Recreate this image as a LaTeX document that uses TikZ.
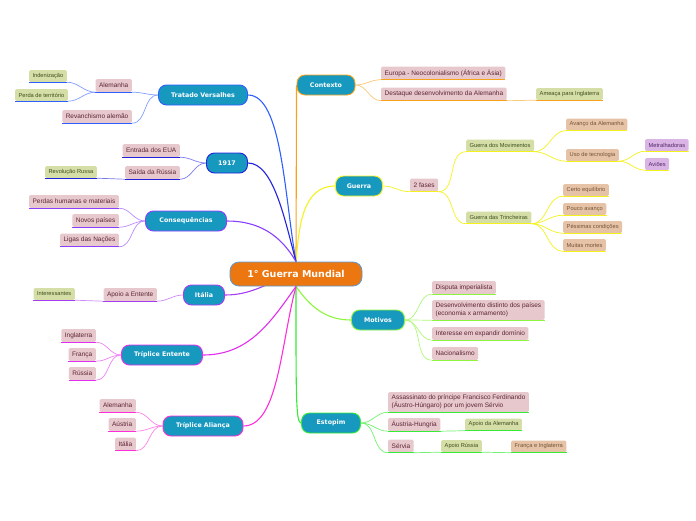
\documentclass[tikz,border=0pt]{standalone}
\usepackage{fontspec}
\setmainfont{Liberation Sans}
\newfontfamily\topicfont{DejaVu Sans}
\usetikzlibrary{backgrounds}
\definecolor{cRoot}{HTML}{EC7610}
\definecolor{cRootLine}{HTML}{5B9BD5}
\definecolor{cTopic}{HTML}{1798BF}
\definecolor{cPink}{HTML}{E6C8CD}
\definecolor{cPinkTxt}{HTML}{5E2634}
\definecolor{cSage}{HTML}{D5DEA7}
\definecolor{cSageTxt}{HTML}{3F5020}
\definecolor{cTan}{HTML}{E6C3A6}
\definecolor{cTanTxt}{HTML}{74543A}
\definecolor{cLilac}{HTML}{D9B4E4}
\definecolor{cLilacTxt}{HTML}{55286A}
% branch colours
\definecolor{bCtx}{HTML}{F7A21B}
\definecolor{bWar}{HTML}{F4F21C}
\definecolor{bMot}{HTML}{8CF53C}
\definecolor{bEst}{HTML}{36EB36}
\definecolor{bTrat}{HTML}{2F5EFF}
\definecolor{bYear}{HTML}{2222DD}
\definecolor{bCons}{HTML}{8A3EFF}
\definecolor{bIta}{HTML}{A63CF2}
\definecolor{bEnt}{HTML}{E22EF0}
\definecolor{bAli}{HTML}{FF2ED8}
\tikzset{
  root/.style={draw=cRootLine, line width=0.8pt, fill=cRoot, rounded corners=9pt,
     text=white, font=\topicfont\bfseries\fontsize{9.5}{11}\selectfont,
     minimum width=132pt, minimum height=24pt, inner sep=0pt},
  topic/.style={fill=cTopic, line width=0.9pt, rounded corners=8pt, text=white,
     font=\topicfont\bfseries\fontsize{6.3}{7.5}\selectfont, minimum height=20pt, inner sep=0pt},
  leaf/.style={fill=cPink, text=cPinkTxt, rounded corners=1.5pt, align=left,
     font=\fontsize{6.5}{7.6}\selectfont, minimum height=13pt, inner xsep=3.5pt, inner ysep=1.5pt},
  sage/.style={leaf, fill=cSage, text=cSageTxt, font=\fontsize{5.7}{6.5}\selectfont, minimum height=12pt},
  tan/.style={sage, fill=cTan, text=cTanTxt},
  lilac/.style={sage, fill=cLilac, text=cLilacTxt},
  trunk/.style={line width=1.1pt},
  twig/.style={line width=0.7pt},
  uline/.style={line width=1.4pt},
}

\begin{document}
\begin{tikzpicture}[x=1pt, y=-1pt]
  \useasboundingbox (0,0) rectangle (696,520);
  \node[root] (root) at (296,274) {1° Guerra Mundial};

  % main topics
  \node[topic, draw=bCtx, minimum width=58pt] (ctx) at (326,85) {Contexto};
  \node[topic, draw=bWar, minimum width=47pt] (war) at (359,186) {Guerra};
  \node[topic, draw=bMot, minimum width=53pt] (mot) at (378,320) {Motivos};
  \node[topic, draw=bEst, minimum width=59pt] (est) at (331,423) {Estopim};
  \node[topic, draw=bTrat, minimum width=89pt] (trat) at (203,95) {Tratado Versalhes};
  \node[topic, draw=bYear, minimum width=41pt] (year) at (227,163) {1917};
  \node[topic, draw=bCons, minimum width=81pt] (cons) at (186,221) {Consequências};
  \node[topic, draw=bIta, minimum width=41pt] (ita) at (204,295) {Itália};
  \node[topic, draw=bEnt, minimum width=81pt] (ent) at (162,355) {Tríplice Entente};
  \node[topic, draw=bAli, minimum width=80pt] (ali) at (203,426) {Tríplice Aliança};

  % right side leaves
  \node[leaf, anchor=west] (ctx1) at (381,73) {Europa - Neocolonialismo (África e Ásia)};
  \node[leaf, anchor=west] (ctx2) at (381,94) {Destaque desenvolvimento da Alemanha};
  \node[sage, anchor=west] (ctx3) at (536,94) {Ameaça para Inglaterra};

  \node[leaf, anchor=west] (fases) at (410,185) {2 fases};
  \node[sage, anchor=west] (movi) at (466,145.5) {Guerra dos Movimentos};
  \node[sage, anchor=west] (trin) at (466,217.5) {Guerra das Trincheiras};
  \node[tan, anchor=west] (avan) at (566,124.5) {Avanço da Alemanha};
  \node[tan, anchor=west] (tecn) at (566,155) {Uso de tecnologia};
  \node[lilac, anchor=west] (metr) at (645,145) {Metralhadoras};
  \node[lilac, anchor=west] (avio) at (645,164) {Aviões};
  \node[tan, anchor=west] (equi) at (563,190) {Certo equilíbrio};
  \node[tan, anchor=west] (pouco) at (563,209) {Pouco avanço};
  \node[tan, anchor=west] (pess) at (563,227) {Péssimas condições};
  \node[tan, anchor=west] (mort) at (563,245) {Muitas mortes};

  \node[leaf, anchor=west] (mot1) at (432,287.5) {Disputa imperialista};
  \node[leaf, anchor=west, minimum height=20pt] (mot2) at (432,310) {Desenvolvimento distinto dos países\\(economia x armamento)};
  \node[leaf, anchor=west] (mot3) at (432,333.5) {Interesse em expandir domínio};
  \node[leaf, anchor=west] (mot4) at (432,353.5) {Nacionalismo};

  \node[leaf, anchor=west, minimum height=20pt] (est1) at (388,402) {Assassinato do príncipe Francisco Ferdinando\\(Áustro-Húngaro) por um jovem Sérvio};
  \node[leaf, anchor=west] (est2) at (388,424.5) {Áustria-Hungria};
  \node[sage, anchor=west] (est3) at (465,424.5) {Apoio da Alemanha};
  \node[leaf, anchor=west] (est4) at (388,446) {Sérvia};
  \node[sage, anchor=west] (est5) at (441,446) {Apoio Rússia};
  \node[tan, anchor=west] (est6) at (511,446.5) {França e Inglaterra};

  % left side leaves
  \node[leaf, anchor=east] (trat1) at (132,85.5) {Alemanha};
  \node[sage, anchor=east] (trat2) at (67,76) {Indenização};
  \node[sage, anchor=east] (trat3) at (68,95) {Perda de território};
  \node[leaf, anchor=east] (trat4) at (132,116.5) {Revanchismo alemão};

  \node[leaf, anchor=east] (year1) at (180,150.5) {Entrada dos EUA};
  \node[leaf, anchor=east] (year2) at (180,172.5) {Saída da Rússia};
  \node[sage, anchor=east] (year3) at (97,172) {Revolução Russa};

  \node[leaf, anchor=east] (cons1) at (119,201.5) {Perdas humanas e materiais};
  \node[leaf, anchor=east] (cons2) at (119,220.5) {Novos países};
  \node[leaf, anchor=east] (cons3) at (119,240) {Ligas das Nações};

  \node[leaf, anchor=east] (ita1) at (157,294.5) {Apoio a Entente};
  \node[sage, anchor=east] (ita2) at (75,294) {Interessantes};

  \node[leaf, anchor=east] (ent1) at (96,335.5) {Inglaterra};
  \node[leaf, anchor=east] (ent2) at (96,354.5) {França};
  \node[leaf, anchor=east] (ent3) at (96,373.5) {Rússia};

  \node[leaf, anchor=east] (ali1) at (136,405.5) {Alemanha};
  \node[leaf, anchor=east] (ali2) at (136,424.5) {Aústria};
  \node[leaf, anchor=east] (ali3) at (136,444) {Itália};

  \begin{scope}[on background layer]
    % trunks from the root
    \draw[trunk, bCtx] (root.north) -- (ctx.west);
    \draw[trunk, bWar] (root.north) to[out=85, in=180] (war.west);
    \draw[trunk, bMot] (root.south) to[out=-55, in=180] (mot.west);
    \draw[trunk, bEst] (root.south) to[out=-90, in=180, out looseness=2, in looseness=0.1] (est.west);
    \draw[trunk, bTrat] (root.north) to[out=100, in=0, in looseness=0.5] (trat.east);
    \draw[trunk, bYear] (root.north) to[out=105, in=0, in looseness=0.6] (year.east);
    \draw[trunk, bCons] (root.north) to[out=120, in=0] (cons.east);
    \draw[trunk, bIta] (root.center) to[out=195, in=0] (ita.east);
    \draw[trunk, bEnt] (root.south) to[out=235, in=0] (ent.east);
    \draw[trunk, bAli] (root.south) to[out=255, in=0, in looseness=0.6] (ali.east);

    % right twigs
    \foreach \n in {ctx1,ctx2}
      \draw[twig, bCtx!60] (ctx.east) to[out=0, in=180] (\n.south west);
    \draw[twig, bCtx!60] (ctx2.south east) -- (ctx3.south west);

    \draw[twig, bWar] (war.east) to[out=0, in=180] (fases.south west);
    \foreach \n in {movi,trin}
      \draw[twig, bWar] (fases.south east) to[out=0, in=180] (\n.south west);
    \foreach \n in {avan,tecn}
      \draw[twig, bWar] (movi.south east) to[out=0, in=180] (\n.south west);
    \foreach \n in {metr,avio}
      \draw[twig, bWar] (tecn.south east) to[out=0, in=180] (\n.south west);
    \foreach \n in {equi,pouco,pess,mort}
      \draw[twig, bWar] (trin.south east) to[out=0, in=180] (\n.south west);

    \foreach \n in {mot1,mot2,mot3,mot4}
      \draw[twig, bMot!70] (mot.east) to[out=0, in=180] (\n.south west);

    \foreach \n in {est1,est2,est4}
      \draw[twig, bEst!70] (est.east) to[out=0, in=180] (\n.south west);
    \draw[twig, bEst!70] (est2.south east) -- (est3.south west);
    \draw[twig, bEst!70] (est4.south east) -- (est5.south west);
    \draw[twig, bEst!70] (est5.south east) -- (est6.south west);

    % left twigs
    \foreach \n in {trat1,trat4}
      \draw[twig, bTrat!60] (trat.west) to[out=180, in=0] (\n.south east);
    \foreach \n in {trat2,trat3}
      \draw[twig, bTrat!60] (trat1.south west) to[out=180, in=0] (\n.south east);
    \foreach \n in {year1,year2}
      \draw[twig, bYear!60] (year.west) to[out=180, in=0] (\n.south east);
    \draw[twig, bYear!60] (year2.south west) -- (year3.south east);
    \foreach \n in {cons1,cons2,cons3}
      \draw[twig, bCons!60] (cons.west) to[out=180, in=0] (\n.south east);
    \draw[twig, bIta!60] (ita.west) to[out=180, in=0] (ita1.south east);
    \draw[twig, bIta!60] (ita1.south west) -- (ita2.south east);
    \foreach \n in {ent1,ent2,ent3}
      \draw[twig, bEnt!60] (ent.west) to[out=180, in=0] (\n.south east);
    \foreach \n in {ali1,ali2,ali3}
      \draw[twig, bAli!60] (ali.west) to[out=180, in=0] (\n.south east);
  \end{scope}

  % underlines
  \foreach \n in {ctx1,ctx2,ctx3}
    \draw[uline, bCtx] (\n.south west) -- (\n.south east);
  \foreach \n in {fases,movi,trin,avan,tecn,metr,avio,equi,pouco,pess,mort}
    \draw[uline, bWar] (\n.south west) -- (\n.south east);
  \foreach \n in {mot1,mot2,mot3,mot4}
    \draw[uline, bMot] (\n.south west) -- (\n.south east);
  \foreach \n in {est1,est2,est3,est4,est5,est6}
    \draw[uline, bEst] (\n.south west) -- (\n.south east);
  \foreach \n in {trat1,trat2,trat3,trat4}
    \draw[uline, bTrat] (\n.south west) -- (\n.south east);
  \foreach \n in {year1,year2,year3}
    \draw[uline, bYear] (\n.south west) -- (\n.south east);
  \foreach \n in {cons1,cons2,cons3}
    \draw[uline, bCons] (\n.south west) -- (\n.south east);
  \foreach \n in {ita1,ita2}
    \draw[uline, bIta] (\n.south west) -- (\n.south east);
  \foreach \n in {ent1,ent2,ent3}
    \draw[uline, bEnt] (\n.south west) -- (\n.south east);
  \foreach \n in {ali1,ali2,ali3}
    \draw[uline, bAli] (\n.south west) -- (\n.south east);
\end{tikzpicture}
\end{document}
